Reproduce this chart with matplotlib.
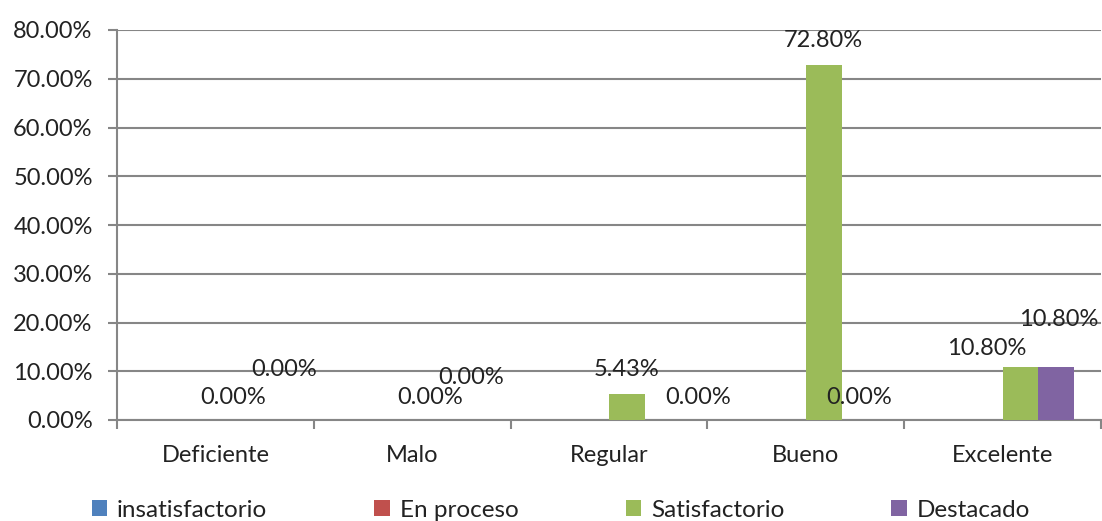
import numpy as np
import matplotlib
matplotlib.use("Agg")
import matplotlib.pyplot as plt
from matplotlib.ticker import FuncFormatter, FixedLocator

plt.rcParams['font.family'] = ['Lato', 'DejaVu Sans']

# datos
categorias = ["Deficiente", "Malo", "Regular", "Bueno", "Excelente"]
series = ["insatisfactorio", "En proceso", "Satisfactorio", "Destacado"]
insatisfactorio = [0, 0, 0, 0, 0]
en_proceso = [0, 0, 0, 0, 0]
satisfactorio = [0.0, 0.0, 5.43, 72.80, 10.80]
destacado = [0.0, 0.0, 0.0, 0.0, 10.80]

colores = ["#4F81BD", "#C0504D", "#9BBB59", "#8064A2"]

# desplazamiento de etiquetas (pixeles), como quedaron en la hoja original
desp_satisf = [(0, 23), (0, 23), (0, 24), (0, 25), (-34, 19)]
desp_destac = [(15, 50), (5, 42), (35, 23), (0, 23), (2, 48)]

FS = 17

fig = plt.figure(figsize=(11.02, 5.21), dpi=100)
ax = fig.add_axes([117 / 1102, 1 - 420 / 521, (1101 - 117) / 1102, 390 / 521])

x = np.arange(len(categorias))
ancho = 1 / 5.5
valores = [insatisfactorio, en_proceso, satisfactorio, destacado]
barras = []
for i, (nombre, vals) in enumerate(zip(series, valores)):
    b = ax.bar(x + (i - 1.5) * ancho, vals, ancho, color=colores[i], label=nombre,
               zorder=3)
    barras.append(b)

# etiquetas de datos
for serie_idx, desp in ((2, desp_satisf), (3, desp_destac)):
    for j, rect in enumerate(barras[serie_idx]):
        v = valores[serie_idx][j]
        ax.annotate(f"{v:.2f}%", (rect.get_x() + rect.get_width() / 2, v),
                    xytext=desp[j], textcoords="offset pixels",
                    ha="center", va="center", fontsize=FS, color="#222222",
                    zorder=5)

ax.set_ylim(0, 80)
ax.set_xlim(-0.5, 4.5)
ax.set_yticks(np.arange(0, 81, 10))
ax.yaxis.set_major_formatter(FuncFormatter(lambda v, p: f"{v:.2f}%"))
ax.grid(axis="y", color="#868686", linewidth=1.5, zorder=0)
ax.set_axisbelow(True)

ax.set_xticks(x)
ax.set_xticklabels(categorias)
ax.xaxis.set_minor_locator(FixedLocator(np.arange(-0.5, 4.6, 1)))
ax.tick_params(axis="x", which="major", length=0, pad=18, labelsize=FS,
               labelcolor="#222222")
ax.tick_params(axis="x", which="minor", length=6.5, width=1.5, color="#868686")
ax.tick_params(axis="y", length=6.5, width=1.5, color="#868686", labelsize=FS,
               labelcolor="#222222", pad=11)

for lado in ["top", "right"]:
    ax.spines[lado].set_visible(False)
for lado in ["left", "bottom"]:
    ax.spines[lado].set_color("#868686")
    ax.spines[lado].set_linewidth(1.5)

fig.legend(handles=barras, labels=series, loc="center", ncol=4,
           bbox_to_anchor=(0.509, 0.021), frameon=False, fontsize=17.5,
           handlelength=0.65, handleheight=0.65, handletextpad=0.4,
           columnspacing=4.4, labelcolor="#222222")

fig.savefig("out.png", dpi=100)
